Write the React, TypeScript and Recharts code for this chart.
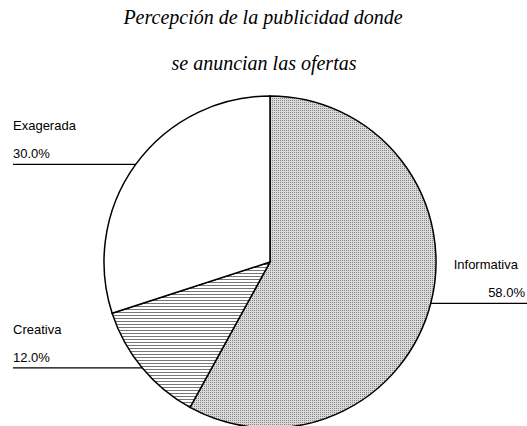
import { PieChart, Pie, Cell } from "recharts";

const categories = ["Informativa", "Creativa", "Exagerada"];
const shares = [58, 12, 30];
const titleLines = ["Percepción de la publicidad donde", "se anuncian las ofertas"];

const fills = ["url(#dots)", "url(#hlines)", "#ffffff"];

const data = categories.map((name, i) => ({ name, value: shares[i] }));

const RAD = Math.PI / 180;

function renderLabel(props: any) {
  const { cx, cy, midAngle, outerRadius, name, value } = props;
  const x = cx + outerRadius * Math.cos(-midAngle * RAD);
  const y = cy + outerRadius * Math.sin(-midAngle * RAD);
  const left = x < cx;
  const pct = `${Number(value).toFixed(1)}%`;
  const font = { fontFamily: "Liberation Sans, Arial, sans-serif", fontSize: 13, fill: "#000" };
  if (left) {
    return (
      <g>
        <line x1={13} y1={y} x2={x} y2={y} stroke="#000" strokeWidth={1.2} />
        <text x={13} y={y - 34} {...font}>{name}</text>
        <text x={13} y={y - 6} {...font}>{pct}</text>
      </g>
    );
  }
  return (
    <g>
      <line x1={x} y1={y} x2={527} y2={y} stroke="#000" strokeWidth={1.2} />
      <text x={518} y={y - 34} textAnchor="end" {...font}>{name}</text>
      <text x={525} y={y - 6} textAnchor="end" {...font}>{pct}</text>
    </g>
  );
}

export default function App() {
  return (
    <div
      style={{
        position: "absolute",
        left: 0,
        top: 0,
        width: 527,
        height: 426,
        overflow: "hidden",
        background: "#fff",
      }}
    >
      <PieChart
        width={527}
        height={426}
        margin={{ top: 0, right: 0, bottom: 0, left: 0 }}
        style={{ position: "absolute", left: 0, top: 0 }}
      >
        <defs>
          <pattern id="dots" width={2} height={2} patternUnits="userSpaceOnUse">
            <rect width={2} height={2} fill="#dadada" />
            <rect x={0} y={0} width={1} height={1} fill="#858585" />
          </pattern>
          <pattern id="hlines" width={3} height={3} patternUnits="userSpaceOnUse">
            <rect width={3} height={3} fill="#ffffff" />
            <rect x={0} y={0} width={3} height={1} fill="#777777" />
          </pattern>
        </defs>
        <Pie
          data={data}
          dataKey="value"
          nameKey="name"
          cx={270}
          cy={262}
          innerRadius={0}
          outerRadius={166}
          startAngle={90}
          endAngle={-270}
          stroke="#000"
          strokeWidth={1.5}
          label={renderLabel}
          labelLine={false}
          isAnimationActive={false}
        >
          {data.map((d, i) => (
            <Cell key={d.name} fill={fills[i]} />
          ))}
        </Pie>
      </PieChart>

      {/* Title */}
      <svg
        width={527}
        height={90}
        style={{ position: "absolute", left: 0, top: 0, pointerEvents: "none" }}
      >
        <text
          x={263}
          y={24}
          textAnchor="middle"
          fontFamily="Liberation Serif, serif"
          fontStyle="italic"
          fontSize={20}
        >
          {titleLines[0]}
        </text>
        <text
          x={264}
          y={70}
          textAnchor="middle"
          fontFamily="Liberation Serif, serif"
          fontStyle="italic"
          fontSize={20}
        >
          {titleLines[1]}
        </text>
      </svg>
    </div>
  );
}
